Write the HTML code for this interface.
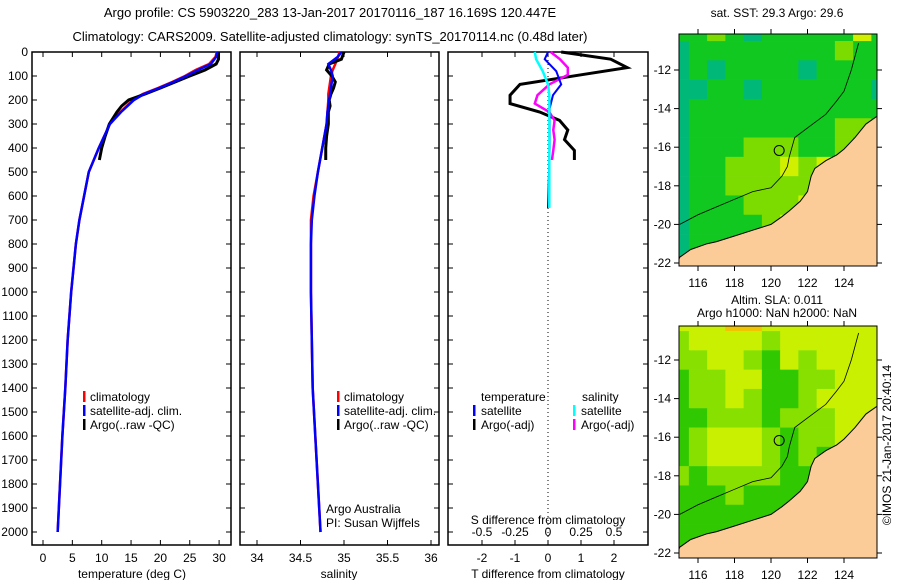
<!DOCTYPE html>
<html><head><meta charset="utf-8"><style>
body{margin:0;background:#fff}
svg{display:block;font-family:"Liberation Sans",sans-serif}
</style></head><body>
<svg id="chart" width="900" height="580" viewBox="0 0 900 580" xmlns="http://www.w3.org/2000/svg">
<text x="330" y="17" font-size="13" text-anchor="middle">Argo profile: CS 5903220_283 13-Jan-2017 20170116_187 16.169S 120.447E</text>
<text x="330" y="41" font-size="13" text-anchor="middle">Climatology: CARS2009. Satellite-adjusted climatology: synTS_20170114.nc (0.48d later)</text>
<text x="777" y="17" font-size="12" text-anchor="middle">sat. SST: 29.3 Argo: 29.6</text>
<text x="777" y="304" font-size="12" text-anchor="middle">Altim. SLA: 0.011</text>
<text x="777" y="317" font-size="12" text-anchor="middle">Argo h1000: NaN h2000: NaN</text>
<text transform="translate(891,445) rotate(-90)" font-size="12" text-anchor="middle">©IMOS 21-Jan-2017 20:40:14</text>
<g id="g"></g>
</svg>
<script>
// ---- data ----
const depthTicks=[0,100,200,300,400,500,600,700,800,900,1000,1100,1200,1300,1400,1500,1600,1700,1800,1900,2000];
const tempTicks=[0,5,10,15,20,25,30];
const salTicks=[34,34.5,35,35.5,36];
const tdiffTicks=[-2,-1,0,1,2];
const sdiffTicks=[-0.5,-0.25,0,0.25,0.5];
const climDepth=[0,20,50,75,100,125,150,175,200,250,300,400,500,600,700,800,1000,1200,1400,1600,1800,2000];
const climTemp=[29.6,29.4,28.3,26,24.2,22,19.6,17,15.3,13.2,11.4,9.5,7.8,7,6.2,5.6,4.8,4.2,3.8,3.3,2.9,2.5];
const satTemp=[29.7,29.5,28.6,26.4,24.4,22.2,19.8,17.2,15.5,13.3,11.4,9.5,7.8,7,6.2,5.6,4.8,4.2,3.8,3.3,2.9,2.5];
const climSal=[34.95,34.93,34.9,34.87,34.85,34.84,34.83,34.82,34.82,34.81,34.8,34.75,34.7,34.65,34.62,34.62,34.62,34.63,34.64,34.67,34.7,34.73];
const satSal=[34.97,34.93,34.82,34.85,34.87,34.86,34.85,34.84,34.83,34.81,34.8,34.75,34.7,34.66,34.63,34.62,34.62,34.63,34.64,34.67,34.7,34.73];
const argoDepth=[0,30,50,75,100,125,150,175,200,225,250,300,350,400,450];
const argoTemp=[29.9,29.9,29.5,27.6,25,22.5,20,17.4,14.6,13.4,12.6,11.3,10.6,10,9.6];
const argoSal=[35.0,34.97,34.83,34.8,34.86,34.9,34.88,34.85,34.83,34.84,34.82,34.82,34.8,34.79,34.79];
const diffDepth=[0,30,65,95,135,180,215,250,285,325,365,410,450];
const diffArgoT=[0.4,1.9,2.4,1.0,-0.85,-1.15,-1.15,-0.25,0.35,0.6,0.5,0.8,0.8];
const diffArgoS=[0.02,0.09,0.15,0.15,0.01,-0.08,-0.1,0.01,0.05,0.04,0.05,0.04,0.03];
const satDiffDepth=[0,30,80,135,180,235,400,650];
const diffSatT=[0,-0.1,0.25,0.4,0.15,0.05,0.05,0];
const diffSatS=[-0.1,-0.09,-0.04,0,0.01,0.01,0.01,0.01];
const lonTicks=[116,118,120,122,124];
const latTicks=[-12,-14,-16,-18,-20,-22];
const sstRows=["gglgtgggggyg","tgggggggglgg","tgtggggtgggg","ttggtggggggt","tggggggggggg","tggggggggllg","tggglllgglgg","tgglllylyylg","tgglllllyolg","tggglllyyylg","tgggglyyyylg","tggggyyyylll","tggggggggggg"];
const slaRows=["yyyooyyyyyyy","lyyyylyyyyyy","llyylgylyyyy","gllyyggllyyy","gllylgglyyyy","gglllglllyyy","glyyylgllyyy","glyyylglglyy","lgllllgglly","ggglgggglllg","gggggggglllg","gggggggggggg","gggggggggggg"];
const coastLon=[115,115.6,116.5,117,118,119,120,120.6,121,121.6,122,122.2,122.4,123,123.6,124,124.6,125.2,125.8];
const coastLat=[-21.7,-21.3,-21.0,-20.9,-20.6,-20.3,-20.0,-19.6,-19.3,-18.8,-18.3,-17.5,-17.1,-16.7,-16.4,-16.1,-15.5,-14.8,-14.4];
const isoLon=[115,116,117,118,119,120,120.6,120.9,121,121.3,122,123,123.6,124,124.4,124.8];
const isoLat=[-20,-19.5,-19.1,-18.7,-18.3,-18.1,-17.5,-17,-16.5,-15.5,-15,-14.3,-13.6,-13.1,-12,-10.6];
const argoLon=120.447, argoLat=-16.169;
// ---- helpers ----
const NS="http://www.w3.org/2000/svg", G=document.getElementById('g');
function el(t,a,p){const e=document.createElementNS(NS,t);for(const k in a)e.setAttribute(k,a[k]);(p||G).appendChild(e);return e;}
const yD=d=>52+d*0.24;
function line(xs,ys,fx,fy,col,w,name){
  const e=el('polyline',{points:xs.map((v,i)=>fx(v)+','+fy(ys[i])).join(' '),fill:'none',stroke:col,'stroke-width':w});
  
  
}
function txt(x,y,s,sz,anc,name,col){
  const e=el('text',{x:x,y:y,'font-size':sz,'text-anchor':anc||'start',fill:col||'#000'});e.textContent=s;
  
  
  return e;
}
function box(x0,x1,name){
  const e=el('rect',{x:x0,y:52,width:x1-x0,height:493,fill:'none',stroke:'#000','stroke-width':1.5});
  
  
}
function ticksX(vals,fx,y0,lbl,name,top){
  vals.forEach(v=>{const x=fx(v);
    el('line',{x1:x,x2:x,y1:545,y2:540,stroke:'#000'});
    if(top) el('line',{x1:x,x2:x,y1:52,y2:57,stroke:'#000'});
    if(lbl) txt(x,y0,String(v),12,'middle',name);});
}
// ---- panel 1: temperature ----
const xT=t=>43+t*5.87;
box(32,231,'temperature-panel');
depthTicks.forEach(d=>{el('line',{x1:32,x2:37,y1:yD(d),y2:yD(d),stroke:'#000'});el('line',{x1:231,x2:226,y1:yD(d),y2:yD(d),stroke:'#000'});txt(28,yD(d)+4,String(d),12,'end','depth-tick-label');});
ticksX(tempTicks,xT,562,true,'temp-tick-label',true);
txt(132,578,'temperature (deg C)',12,'middle','temp-axis-title');
line(climTemp,climDepth,xT,yD,'#f00',2.5,'temp-climatology-line');
line(argoTemp,argoDepth,xT,yD,'#000',3,'temp-argo-line');
line(satTemp,climDepth,xT,yD,'#00f',2.5,'temp-satellite-line');
[['#f00','climatology'],['#00f','satellite-adj. clim.'],['#000','Argo(..raw -QC)']].forEach((l,i)=>{
  el('rect',{x:83,y:391+i*14,width:2.5,height:11,fill:l[0]});txt(90,401+i*14,l[1],12,'start','temp-legend-entry');});
// ---- panel 2: salinity ----
const xS=s=>257+(s-34)*87;
box(240,439,'salinity-panel');
depthTicks.forEach(d=>{el('line',{x1:240,x2:245,y1:yD(d),y2:yD(d),stroke:'#000'});el('line',{x1:439,x2:434,y1:yD(d),y2:yD(d),stroke:'#000'});});
ticksX(salTicks,xS,562,true,'salinity-tick-label',true);
txt(339,578,'salinity',12,'middle','salinity-axis-title');
line(climSal,climDepth,xS,yD,'#f00',2.5,'sal-climatology-line');
line(argoSal,argoDepth,xS,yD,'#000',3,'sal-argo-line');
line(satSal,climDepth,xS,yD,'#00f',2.5,'sal-satellite-line');
[['#f00','climatology'],['#00f','satellite-adj. clim.'],['#000','Argo(..raw -QC)']].forEach((l,i)=>{
  el('rect',{x:337,y:391+i*14,width:2.5,height:11,fill:l[0]});txt(344,401+i*14,l[1],12,'start','sal-legend-entry');});
txt(326,513,'Argo Australia',12,'start','credit-argo-australia');
txt(326,527,'PI: Susan Wijffels',12,'start','credit-pi');
// ---- panel 3: differences ----
const xTd=v=>548+v*33, xSd=v=>548+v*132;
box(448,648,'difference-panel');
depthTicks.forEach(d=>{el('line',{x1:448,x2:453,y1:yD(d),y2:yD(d),stroke:'#000'});el('line',{x1:648,x2:643,y1:yD(d),y2:yD(d),stroke:'#000'});});
ticksX(tdiffTicks,xTd,562,true,'tdiff-tick-label',true);
sdiffTicks.forEach(v=>txt(xSd(v),536,String(v),12,'middle','sdiff-tick-label'));
txt(548,524,'S difference from climatology',12,'middle','sdiff-axis-title');
txt(548,578,'T difference from climatology',12,'middle','tdiff-axis-title');
el('line',{x1:548,x2:548,y1:52,y2:545,stroke:'#000','stroke-dasharray':'1,3'});
line(diffArgoT,diffDepth,xTd,yD,'#000',3,'tdiff-argo-line');
line(diffArgoS,diffDepth,xSd,yD,'#f0f',2.5,'sdiff-argo-line');
line(diffSatT,satDiffDepth,xTd,yD,'#00f',2,'tdiff-satellite-line');
line(diffSatS,satDiffDepth,xSd,yD,'#0ff',2.5,'sdiff-satellite-line');
txt(481,401,'temperature',12,'start','diff-legend-temperature');
txt(582,401,'salinity',12,'start','diff-legend-salinity');
[['#00f','satellite',473],['#000','Argo(-adj)',473],['#0ff','satellite',573],['#f0f','Argo(-adj)',573]].forEach((l,i)=>{
  const r=i%2;el('rect',{x:l[2],y:405+r*14,width:2.5,height:11,fill:l[0]});txt(l[2]+8,415+r*14,l[1],12,'start','diff-legend-entry');});
// ---- maps ----
const palSST={t:'#00b878',g:'#10c820',l:'#7cdc00',y:'#d0f000',o:'#f0a800'};
const palSLA={g:'#30c800',l:'#88e000',y:'#c8f000',o:'#f0c400'};
function map(top,lat12,rows,pal,name){
  const lx=lon=>698+(lon-116)*18.25, ly=lat=>lat12+(-12-lat)*19.3;
  const clip=el('clipPath',{id:'c'+name});el('rect',{x:679,y:top,width:198,height:232},clip);
  const g=el('g',{'clip-path':'url(#c'+name+')'});
  
  
  rows.forEach((r,i)=>{const lat=-10-i;[...r].forEach((c,j)=>{const lon=115+j;
    el('rect',{x:lx(lon-0.5),y:ly(lat+0.5),width:18.6,height:19.6,fill:pal[c]},g);});});
  let pts=coastLon.map((v,i)=>lx(v)+','+ly(coastLat[i])).join(' ');
  pts+=' '+lx(127)+','+ly(-14.4)+' '+lx(127)+','+ly(-24)+' '+lx(114)+','+ly(-24);
  const land=el('polygon',{points:pts,fill:'#fccc98',stroke:'#000','stroke-width':1},g);
  
  
  const iso=el('polyline',{points:isoLon.map((v,i)=>lx(v)+','+ly(isoLat[i])).join(' '),fill:'none',stroke:'#000','stroke-width':0.8},g);
  
  
  const c=el('circle',{cx:lx(argoLon),cy:ly(argoLat),r:5,fill:'none',stroke:'#000'});
  
  
  el('rect',{x:679,y:top,width:198,height:232,fill:'none',stroke:'#000'});
  latTicks.forEach(v=>{const y=ly(v);el('line',{x1:679,x2:674,y1:y,y2:y,stroke:'#000'});el('line',{x1:877,x2:882,y1:y,y2:y,stroke:'#000'});txt(671,y+4,String(v),12,'end',name+'-lat-label');});
  lonTicks.forEach(v=>{const x=lx(v);el('line',{x1:x,x2:x,y1:top+232,y2:top+237,stroke:'#000'});el('line',{x1:x,x2:x,y1:top,y2:top-5,stroke:'#000'});txt(x,top+253,String(v),12,'middle',name+'-lon-label');});
}
map(34,70,sstRows,palSST,'sst');
map(326,360,slaRows,palSLA,'sla');
</script>
</body></html>
